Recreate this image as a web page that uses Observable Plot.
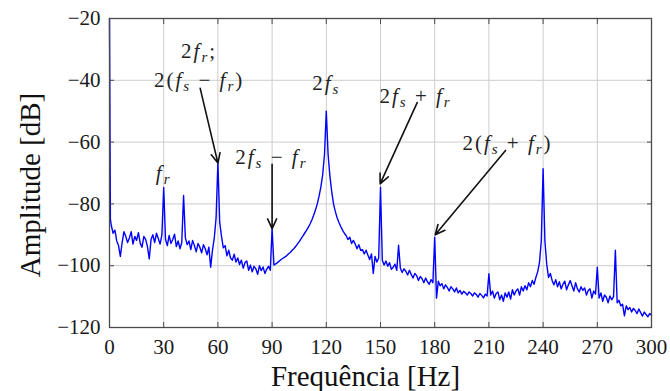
<!DOCTYPE html>
<html><head><meta charset="utf-8">
<script src="https://cdn.jsdelivr.net/npm/d3@7"></script>
<script src="https://cdn.jsdelivr.net/npm/@observablehq/plot@0.6"></script>
<style>
body{margin:0;background:#fff;}
#chart svg{display:block;}
</style>
</head><body><div id="chart"></div>
<script>
// ---- tick labels ----
const xTicks = [0, 30, 60, 90, 120, 150, 180, 210, 240, 270, 300];
const yTicks = [-120, -100, -80, -60, -40, -20];

// ---- spectrum, one value per Hz (0..300 Hz) ----
const ampDb = [
  -20, -87, -89.5, -88.5, -92, -93.5, -97, -92.5, -89, -90.5,
  -92.5, -91, -89, -93, -90.5, -91.8, -89.3, -92.7, -94, -90.5,
  -91.5, -93.8, -97.8, -91.5, -90, -92.5, -89.5, -91.2, -93, -90,
  -74.7, -91.5, -93.5, -90.2, -92.8, -91.5, -89.8, -93.8, -92, -94.5,
  -92.5, -77.3, -91, -93.2, -92, -94.8, -91.8, -93.5, -95.5, -92.8,
  -94, -95.8, -93.2, -94.5, -96.5, -94, -100.5, -95, -91, -84.5,
  -66.5, -86, -90.5, -94.2, -93.5, -96.8, -95, -97.5, -98.2, -96.3,
  -98.8, -97.5, -99.6, -98.2, -100.8, -99, -98.5, -101.5, -99.8, -102,
  -100.2, -101, -102.8, -100, -101.6, -100.4, -102.5, -101.2, -100.2, -101.5,
  -88, -99.8, -99.4, -99, -98.5, -98, -97.6, -97.2, -96.8, -96.2,
  -95.7, -95.1, -94.5, -93.8, -93, -92.2, -91.3, -90.4, -89.5, -88.6,
  -87.6, -86.5, -85.2, -83.7, -82, -80, -77.5, -74.5, -70.5, -64,
  -50, -64, -71, -76, -80, -82.5, -84.5, -86, -87.3, -88.5,
  -89.5, -90.3, -91.5, -90.8, -92.8, -91.8, -93, -94.5, -93.2, -95,
  -94.8, -96.2, -95, -96.5, -98, -96.2, -102.5, -97, -98.8, -97.5,
  -74.6, -98.2, -99.8, -98.5, -100.2, -99, -101.2, -100.5, -99.5, -101.5,
  -93.4, -100.8, -102.2, -101, -101.8, -103, -101.5, -102.8, -104, -102.5,
  -103.2, -104.8, -103.5, -104.2, -105.5, -104, -105.2, -106, -104.5, -105.5,
  -90.8, -110.5, -105, -106.5, -105.8, -107.5, -106.2, -107, -108.2, -106.8,
  -107.5, -108.5, -107.2, -108.8, -108, -109.2, -108.3, -108.8, -109.5, -108.5,
  -109, -109.8, -108.8, -109.3, -110.2, -109, -109.6, -110.4, -109.2, -109.8,
  -102.6, -109.5, -108.2, -110.5, -109, -108.5, -111, -109.5, -111.5, -108.8,
  -110.2, -108.5, -110.8, -107.8, -109.5, -108.2, -107.5, -109.5, -106.8, -108.2,
  -106.5, -107.8, -105.5, -106.8, -104.8, -106, -103.8, -102, -99, -92,
  -68.6, -92, -99.5, -103.8, -102.5, -104.8, -106.2, -104.5, -106.8, -105.2,
  -107.5, -106, -105, -107.8, -106.2, -104.8, -106.5, -108.2, -105.5, -107.5,
  -108.5, -106.8, -108, -107.2, -109.5, -108, -107.5, -110.5, -108.2, -109.2,
  -100.5, -110.5, -108.8, -111.5, -109.5, -110.2, -112, -109.8, -111, -110,
  -95, -112, -111.2, -113, -112.5, -116.2, -113, -114.2, -113.5, -115,
  -113.8, -114.5, -115.5, -114, -115.2, -116.3, -115, -115.8, -116.5, -115.5,
  -116
];
const freqHz = ampDb.map((_, i) => i);   // 1 Hz sampling grid
// extra points read at finer resolution
const extraFreqHz = [0.5];
const extraAmpDb = [-85];

// ---- annotations ----
const labelText = ["f_r", "2f_r;", "2(f_s − f_r)", "2f_s − f_r", "2f_s", "2f_s + f_r", "2(f_s + f_r)"];
const labelX = [30, 49.6, 49.6, 89.6, 120, 169.4, 220.3];
const labelY = [-70, -30.5, -40, -65, -41, -45.2, -60.5];
const arrowX1 = [50.2, 90, 170.3, 219.2];
const arrowY1 = [-42.6, -67.2, -47.2, -62.7];
const arrowX2 = [60, 90, 149.8, 180.3];
const arrowY2 = [-66.8, -88, -73.5, -90];

const rows = freqHz.map((f, i) => ({f, a: ampDb[i]}))
  .concat(extraFreqHz.map((f, i) => ({f, a: extraAmpDb[i]})))
  .sort((p, q) => p.f - q.f);

const serif = "Liberation Serif";
const frameColor = "#4a4a4a";

const chart = Plot.plot({
  width: 670, height: 391,
  marginLeft: 109, marginRight: 19, marginTop: 18, marginBottom: 64,
  style: {fontFamily: serif, background: "#fff", color: "#111"},
  x: {domain: [0, 300]},
  y: {domain: [-120, -20]},
  marks: [
    Plot.ruleX(xTicks, {stroke: "#cdcdcd", strokeWidth: 1}),
    Plot.ruleY(yTicks, {stroke: "#cdcdcd", strokeWidth: 1}),
    Plot.line(rows, {x: "f", y: "a", stroke: "#0000ff", strokeWidth: 1.4}),
    Plot.frame({stroke: frameColor, strokeWidth: 1.3}),
    Plot.axisX(xTicks, {anchor: "bottom", tickSize: 5, dy: -5, fill: "none", stroke: frameColor, label: null}),
    Plot.axisX(xTicks, {anchor: "top", tickSize: 5, dy: 5, fill: "none", stroke: frameColor, label: null}),
    Plot.axisY(yTicks, {anchor: "left", tickSize: 5, dx: 5, fill: "none", stroke: frameColor, label: null}),
    Plot.axisY(yTicks, {anchor: "right", tickSize: 5, dx: -5, fill: "none", stroke: frameColor, label: null}),
    Plot.axisX(xTicks, {anchor: "bottom", tickSize: 0, tickPadding: 12, fontSize: 21, fontFamily: serif, fill: "#1a1a1a", label: null}),
    Plot.axisY(yTicks, {anchor: "left", tickSize: 0, tickPadding: 9, fontSize: 21, fontFamily: serif, fill: "#1a1a1a", label: null}),
    Plot.text(["Frequência [Hz]"], {frameAnchor: "bottom", textAnchor: "middle", lineAnchor: "middle", dx: -15, dy: 49, fontSize: 29, fontFamily: serif, fill: "#111"}),
    Plot.text(["Amplitude [dB]"], {frameAnchor: "left", textAnchor: "middle", lineAnchor: "middle", rotate: -90, dx: -79, dy: 12, fontSize: 29, fontFamily: serif, fill: "#111"}),
    Plot.arrow(arrowX1, {x1: arrowX1, y1: arrowY1, x2: arrowX2, y2: arrowY2, stroke: "#111", strokeWidth: 1.6, headLength: 10, headAngle: 50}),
    Plot.text(labelText, {x: labelX, y: labelY, fontSize: 21, fontFamily: serif, fill: "#222", textAnchor: "middle", lineAnchor: "middle"})
  ]
});
document.getElementById("chart").appendChild(chart);

// typeset math-like labels: letters italic, "_x" becomes subscript
const labelSet = new Set(labelText);
chart.querySelectorAll("text").forEach(t => {
  const s = t.textContent;
  if (!labelSet.has(s)) return;
  while (t.firstChild) t.removeChild(t.firstChild);
  t.setAttribute("letter-spacing", "2");
  const ns = "http://www.w3.org/2000/svg";
  let shifted = false;
  for (let i = 0; i < s.length; i++) {
    let ch = s[i];
    let sub = false;
    if (ch === "_") { sub = true; ch = s[++i]; }
    const ts = document.createElementNS(ns, "tspan");
    ts.textContent = ch;
    if (/[a-z]/.test(ch)) ts.setAttribute("font-style", "italic");
    if (sub) {
      ts.setAttribute("font-size", "15");
      ts.setAttribute("dy", "4");
      shifted = true;
    } else if (shifted) {
      ts.setAttribute("dy", "-4");
      shifted = false;
    }
    t.appendChild(ts);
  }
});
</script>
</body></html>
